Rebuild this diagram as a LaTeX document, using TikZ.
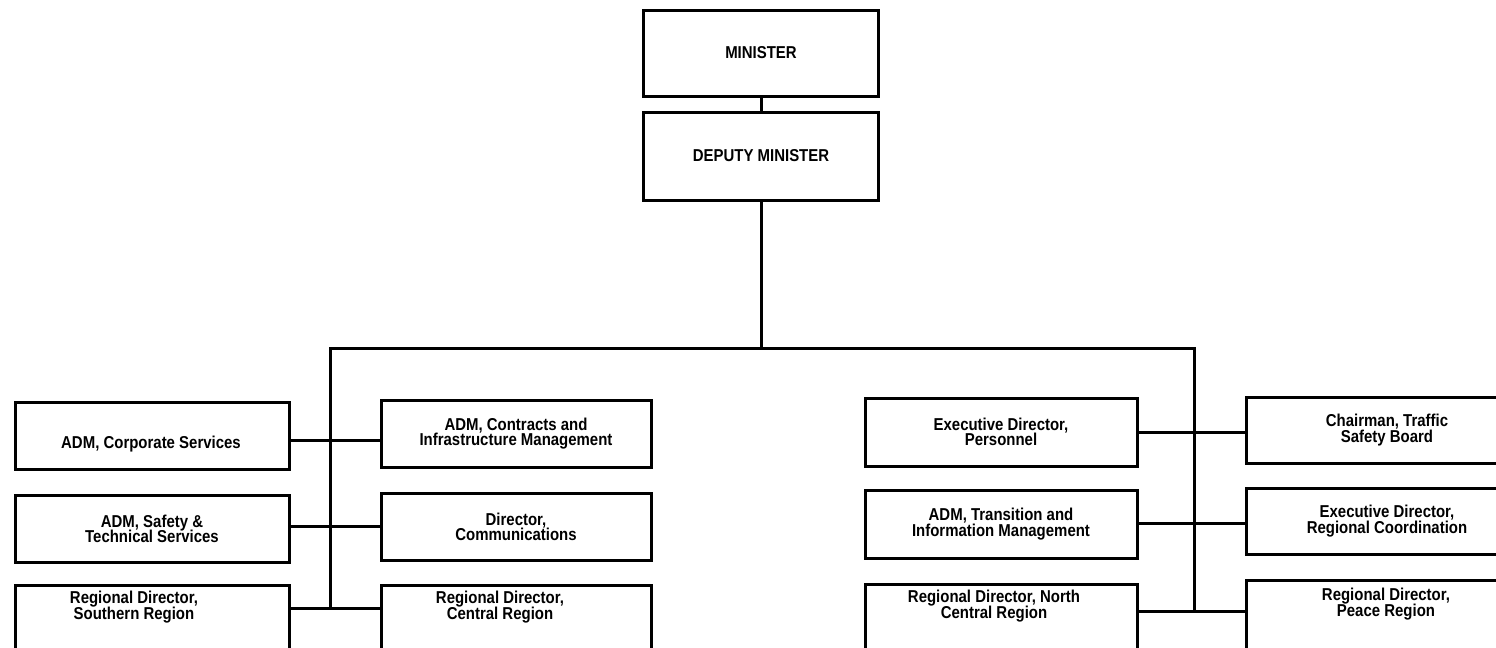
\documentclass[tikz,border=0pt]{standalone}
\usepackage{fontspec}
\setmainfont{Liberation Sans}[FakeStretch=0.87]
\newcommand\orgtight{\lineskiplimit=-20pt\relax\lineskip=0pt\relax}
\tikzset{
  txt/.style={font={\bfseries\fontsize{8.6pt}{7.6pt}\selectfont\orgtight}, align=center},
  box/.style={draw, line width=1.5pt, rectangle, inner sep=0pt, txt},
  lbl/.style={inner sep=0pt, txt},
  conn/.style={line width=1.5pt}
}
\begin{document}
\begin{tikzpicture}[x=0.5pt,y=-0.5pt]
\useasboundingbox (0,0) rectangle (1496,648);
\fill[white] (0,0) rectangle (1496,648);
\clip (0,0) rectangle (1496,648);
% top
\node[box, minimum width=117.5pt, minimum height=43pt] (min) at (761,53) {MINISTER};
\node[box, minimum width=117.5pt, minimum height=44pt] (dep) at (761,156) {DEPUTY MINISTER};
% column 1
\node[box, minimum width=137pt, minimum height=33.5pt] (c1r1) at (152,435.5) {};
\node[lbl] (c1r1t) at (151,444) {ADM, Corporate Services};
\node[box, minimum width=137pt, minimum height=33.5pt] (c1r2) at (152,528.5) {ADM, Safety \&\\Technical Services};
\node[box, minimum width=137pt, minimum height=57.5pt] (c1r3) at (152,642.5) {};
\node[lbl] (c1r3t) at (134,607) {Regional Director,\\Southern Region};
% column 2
\node[box, minimum width=135pt, minimum height=33.5pt] (c2r1) at (516,433.5) {ADM, Contracts and\\Infrastructure Management};
\node[box, minimum width=135pt, minimum height=33.5pt] (c2r2) at (516,526.5) {Director,\\Communications};
\node[box, minimum width=135pt, minimum height=57.5pt] (c2r3) at (516,642.5) {};
\node[lbl] (c2r3t) at (500,607) {Regional Director,\\Central Region};
% column 3
\node[box, minimum width=136pt, minimum height=34pt] (c3r1) at (1001,432) {Executive Director,\\Personnel};
\node[box, minimum width=136pt, minimum height=34pt] (c3r2) at (1001,524) {ADM, Transition and\\Information Management};
\node[box, minimum width=136pt, minimum height=58pt] (c3r3) at (1001,642) {};
\node[lbl] (c3r3t) at (994,606) {Regional Director, North\\Central Region};
% column 4
\node[box, minimum width=141pt, minimum height=33pt] (c4r1) at (1387,430) {Chairman, Traffic\\Safety Board};
\node[box, minimum width=141pt, minimum height=33pt] (c4r2) at (1387,521) {Executive Director,\\Regional Coordination};
\node[box, minimum width=141pt, minimum height=60pt] (c4r3) at (1387,640) {};
\node[lbl] (c4r3t) at (1386,604) {Regional Director,\\Peace Region};
% bus coordinates
\coordinate (bus) at (761,348);
\coordinate (BL) at (330,348);
\coordinate (BR) at (1194,348);
\coordinate (L1) at (330,440);
\coordinate (L2) at (330,526);
\coordinate (L3) at (330,608);
\coordinate (R1) at (1194,432);
\coordinate (R2) at (1194,523);
\coordinate (R3) at (1194,611);
% connectors
\draw[conn] (min.south) -- (dep.north);
\draw[conn] (dep.south) -- (bus);
\draw[conn] (L3) -- (BL) -- (BR) -- (R3);
\draw[conn] (c1r1.east |- L1) -- (c2r1.west |- L1);
\draw[conn] (c1r2.east |- L2) -- (c2r2.west |- L2);
\draw[conn] (c1r3.east |- L3) -- (c2r3.west |- L3);
\draw[conn] (c3r1.east |- R1) -- (c4r1.west |- R1);
\draw[conn] (c3r2.east |- R2) -- (c4r2.west |- R2);
\draw[conn] (c3r3.east |- R3) -- (c4r3.west |- R3);
\end{tikzpicture}
\end{document}
